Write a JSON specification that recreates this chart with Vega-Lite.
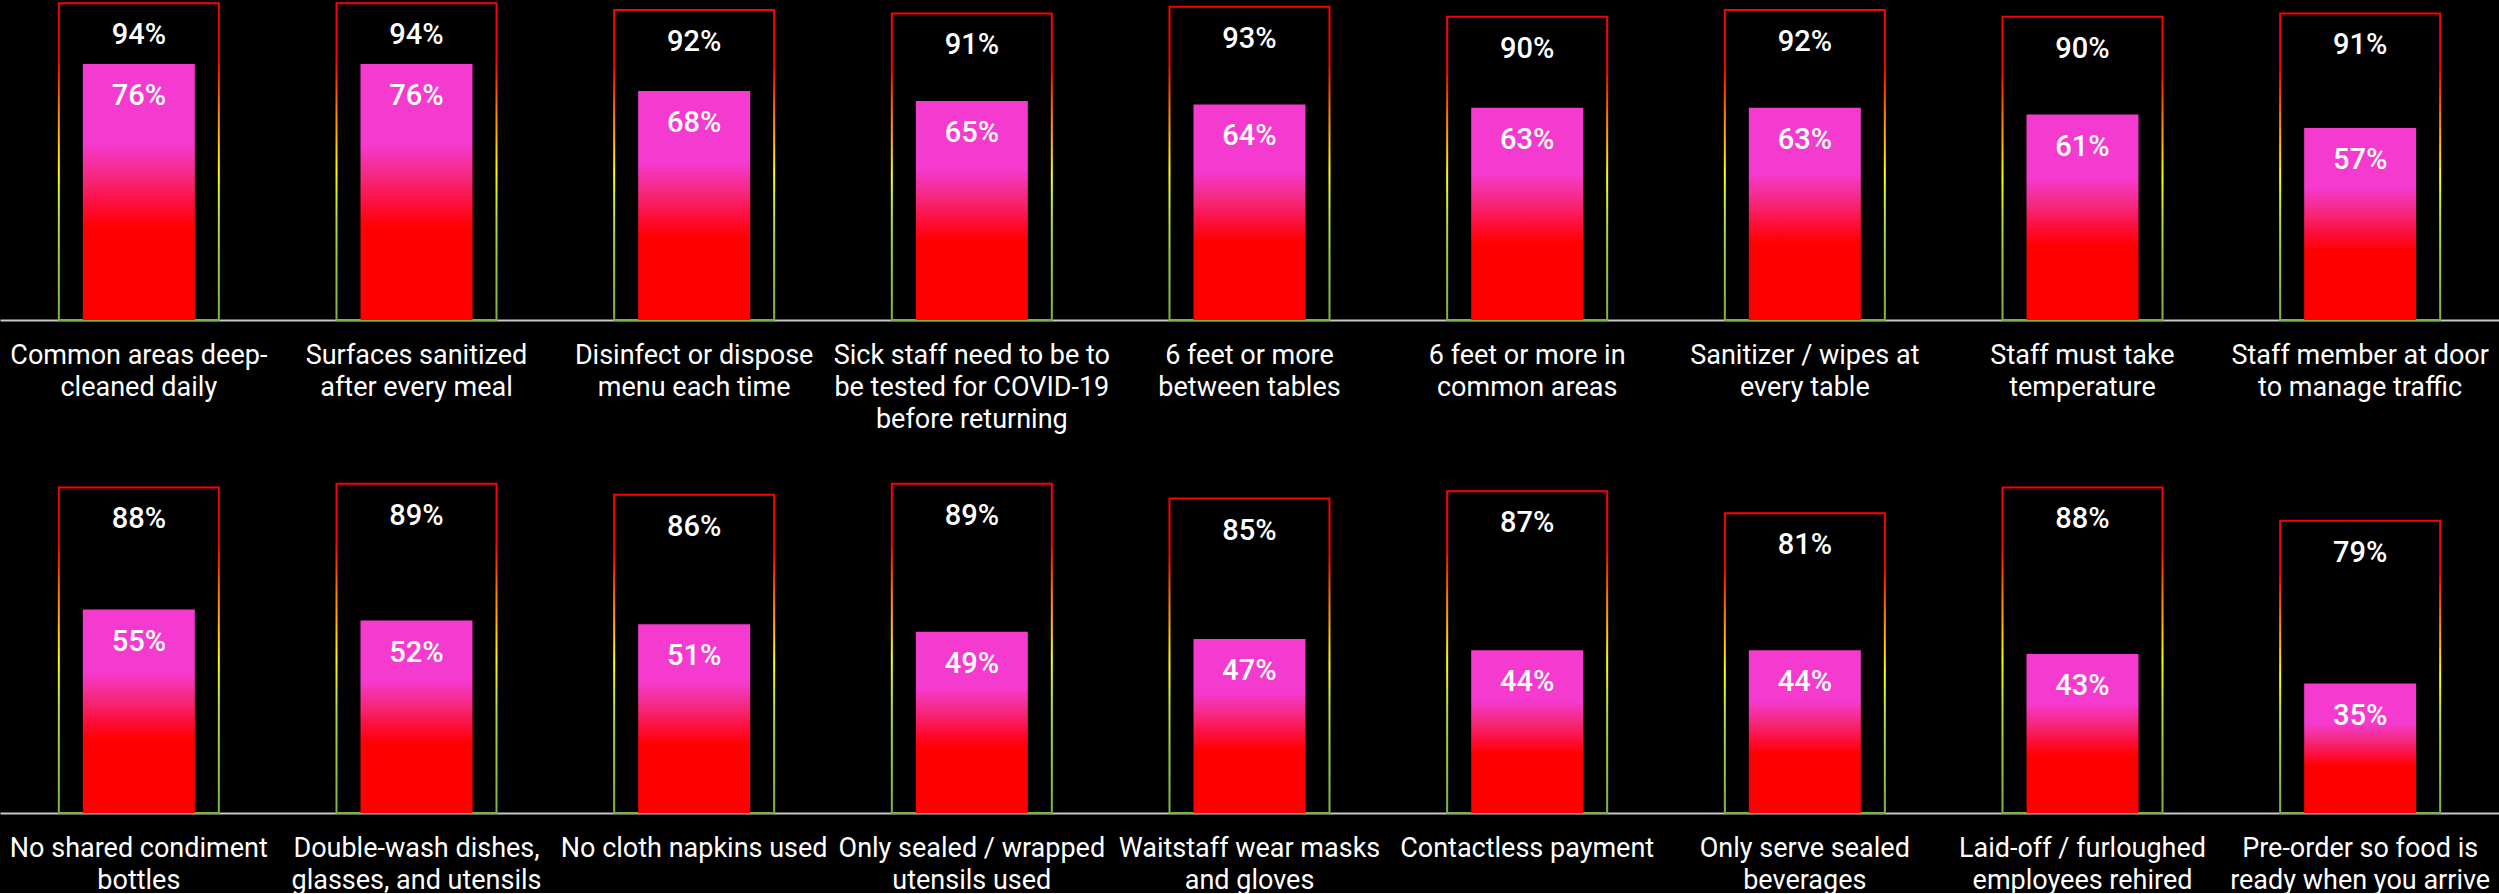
{
  "$schema": "https://vega.github.io/schema/vega-lite/v6.json",
  "background": "black",
  "padding": 0,
  "bounds": "flush",
  "spacing": 153,
  "datasets": {
    "d": [
      {"row": 1, "measure": "Common areas deep-|cleaned daily", "total": 0.94, "pct": 0.76},
      {"row": 1, "measure": "Surfaces sanitized|after every meal", "total": 0.94, "pct": 0.76},
      {"row": 1, "measure": "Disinfect or dispose|menu each time", "total": 0.92, "pct": 0.68},
      {"row": 1, "measure": "Sick staff need to be to|be tested for COVID-19|before returning", "total": 0.91, "pct": 0.65},
      {"row": 1, "measure": "6 feet or more|between tables", "total": 0.93, "pct": 0.64},
      {"row": 1, "measure": "6 feet or more in|common areas", "total": 0.90, "pct": 0.63},
      {"row": 1, "measure": "Sanitizer / wipes at|every table", "total": 0.92, "pct": 0.63},
      {"row": 1, "measure": "Staff must take|temperature", "total": 0.90, "pct": 0.61},
      {"row": 1, "measure": "Staff member at door|to manage traffic", "total": 0.91, "pct": 0.57},
      {"row": 2, "measure": "No shared condiment|bottles", "total": 0.88, "pct": 0.55},
      {"row": 2, "measure": "Double-wash dishes,|glasses, and utensils", "total": 0.89, "pct": 0.52},
      {"row": 2, "measure": "No cloth napkins used", "total": 0.86, "pct": 0.51},
      {"row": 2, "measure": "Only sealed / wrapped|utensils used", "total": 0.89, "pct": 0.49},
      {"row": 2, "measure": "Waitstaff wear masks|and gloves", "total": 0.85, "pct": 0.47},
      {"row": 2, "measure": "Contactless payment", "total": 0.87, "pct": 0.44},
      {"row": 2, "measure": "Only serve sealed|beverages", "total": 0.81, "pct": 0.44},
      {"row": 2, "measure": "Laid-off / furloughed|employees rehired", "total": 0.88, "pct": 0.43},
      {"row": 2, "measure": "Pre-order so food is|ready when you arrive", "total": 0.79, "pct": 0.35}
    ]
  },
  "config": {
    "view": {"stroke": null},
    "font": "Roboto",
    "axisX": {
      "domainColor": "#c8c8c8",
      "domainWidth": 2,
      "ticks": false,
      "tickSize": 0,
      "grid": false,
      "labelColor": "white",
      "labelFont": "Roboto",
      "labelFontSize": 27,
      "labelLineHeight": 32,
      "labelPadding": 22,
      "labelAngle": 0,
      "labelLimit": 400,
      "labelOverlap": false,
      "labelExpr": "split(datum.label, '|')",
      "title": null
    }
  },
  "vconcat": [
    {
      "width": 2499,
      "height": 320,
      "data": {"name": "d"},
      "transform": [{"filter": "datum.row == 1"}],
      "encoding": {
        "x": {"field": "measure", "type": "nominal", "sort": null, "scale": {"paddingInner": 0, "paddingOuter": 0}}
      },
      "layer": [
        {
          "mark": {"type": "bar", "width": 160, "fill": "transparent", "strokeWidth": 2,
            "stroke": {"gradient": "linear", "x1": 0, "y1": 0, "x2": 0, "y2": 1,
              "stops": [
                {"offset": 0, "color": "#ff0000"},
                {"offset": 0.18, "color": "#ff0000"},
                {"offset": 0.33, "color": "#ff7a00"},
                {"offset": 0.53, "color": "#ffff00"},
                {"offset": 0.68, "color": "#b5d94a"},
                {"offset": 1, "color": "#7cb342"}
              ]}},
          "encoding": {"y": {"field": "total", "type": "quantitative", "scale": {"domain": [0, 0.95], "nice": false, "zero": true}, "axis": null}}
        },
        {
          "mark": {"type": "bar", "width": 112,
            "fill": {"gradient": "linear", "x1": 0, "y1": 0, "x2": 0, "y2": 1,
              "stops": [
                {"offset": 0, "color": "#f53ad0"},
                {"offset": 0.31, "color": "#f53ad0"},
                {"offset": 0.44, "color": "#f5287e"},
                {"offset": 0.54, "color": "#fc1040"},
                {"offset": 0.64, "color": "#ff0000"},
                {"offset": 1, "color": "#ff0000"}
              ]}},
          "encoding": {"y": {"field": "pct", "type": "quantitative"}}
        },
        {
          "mark": {"type": "text", "color": "white", "fontSize": 29, "fontWeight": 500, "baseline": "alphabetic", "dy": 41},
          "encoding": {"y": {"field": "total", "type": "quantitative"}, "text": {"field": "total", "type": "quantitative", "format": ".0%"}}
        },
        {
          "mark": {"type": "text", "color": "white", "fontSize": 29, "fontWeight": 500, "baseline": "alphabetic", "dy": 41},
          "encoding": {"y": {"field": "pct", "type": "quantitative"}, "text": {"field": "pct", "type": "quantitative", "format": ".0%"}}
        }
      ]
    },
    {
      "width": 2499,
      "height": 340,
      "data": {"name": "d"},
      "transform": [{"filter": "datum.row == 2"}],
      "encoding": {
        "x": {"field": "measure", "type": "nominal", "sort": null, "scale": {"paddingInner": 0, "paddingOuter": 0}}
      },
      "layer": [
        {
          "mark": {"type": "bar", "width": 160, "fill": "transparent", "strokeWidth": 2,
            "stroke": {"gradient": "linear", "x1": 0, "y1": 0, "x2": 0, "y2": 1,
              "stops": [
                {"offset": 0, "color": "#ff0000"},
                {"offset": 0.18, "color": "#ff0000"},
                {"offset": 0.33, "color": "#ff7a00"},
                {"offset": 0.53, "color": "#ffff00"},
                {"offset": 0.68, "color": "#b5d94a"},
                {"offset": 1, "color": "#7cb342"}
              ]}},
          "encoding": {"y": {"field": "total", "type": "quantitative", "scale": {"domain": [0, 0.919], "nice": false, "zero": true}, "axis": null}}
        },
        {
          "mark": {"type": "bar", "width": 112,
            "fill": {"gradient": "linear", "x1": 0, "y1": 0, "x2": 0, "y2": 1,
              "stops": [
                {"offset": 0, "color": "#f53ad0"},
                {"offset": 0.31, "color": "#f53ad0"},
                {"offset": 0.44, "color": "#f5287e"},
                {"offset": 0.54, "color": "#fc1040"},
                {"offset": 0.64, "color": "#ff0000"},
                {"offset": 1, "color": "#ff0000"}
              ]}},
          "encoding": {"y": {"field": "pct", "type": "quantitative"}}
        },
        {
          "mark": {"type": "text", "color": "white", "fontSize": 29, "fontWeight": 500, "baseline": "alphabetic", "dy": 41},
          "encoding": {"y": {"field": "total", "type": "quantitative"}, "text": {"field": "total", "type": "quantitative", "format": ".0%"}}
        },
        {
          "mark": {"type": "text", "color": "white", "fontSize": 29, "fontWeight": 500, "baseline": "alphabetic", "dy": 41},
          "encoding": {"y": {"field": "pct", "type": "quantitative"}, "text": {"field": "pct", "type": "quantitative", "format": ".0%"}}
        }
      ]
    }
  ]
}
